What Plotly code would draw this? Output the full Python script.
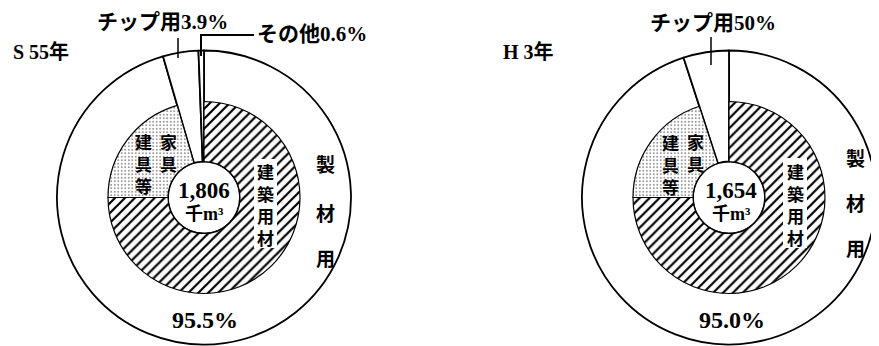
import plotly.graph_objects as go

# ---- data ----
years = ["S 55年", "H 3年"]
totals = ["1,806", "1,654"]
outer_labels = ["製材用", "チップ用", "その他"]
outer_s55 = [95.5, 3.9, 0.6]
outer_h3 = [95.0, 5.0, 0.0]
inner_labels = ["建築用材", "建家具等"]
inner_s55 = [75.0, 20.5]
inner_h3 = [75.0, 20.0]
main_pct_text = ["95.5%", "95.0%"]
chip_text = ["チップ用3.9%", "チップ用50%"]
other_text = ["その他0.6%", None]

W, H = 879, 346
OFF = 8  # page body margin offset
def px(x):
    return (x - OFF) / W
def py(y):
    return 1 - (y - OFF) / H

R_OUT, R_IN, R_HOLE = 147, 96, 36
centers = [(204, 197.5), (729, 197.5)]

FONT = "Liberation Serif, Noto Sans CJK JP"
CJK = "Noto Sans CJK JP"

fig = go.Figure()

for i, (outer, inner) in enumerate([(outer_s55, inner_s55), (outer_h3, inner_h3)]):
    cx, cy = centers[i]
    labs = [l for l, v in zip(outer_labels, outer) if v > 0]
    vals = [v for v in outer if v > 0]
    fig.add_trace(go.Pie(
        labels=labs, values=vals, sort=False, direction="clockwise", rotation=0,
        hole=R_HOLE / R_OUT, textinfo="none", hoverinfo="skip", showlegend=False,
        marker=dict(colors=["white"] * len(vals), line=dict(color="black", width=1.8)),
        domain=dict(x=[px(cx - R_OUT), px(cx + R_OUT)], y=[py(cy + R_OUT), py(cy - R_OUT)]),
    ))
    gap = 100 - sum(inner)
    fig.add_trace(go.Pie(
        labels=inner_labels + ["gap"], values=inner + [gap], sort=False,
        direction="clockwise", rotation=0,
        hole=R_HOLE / R_IN, textinfo="none", hoverinfo="skip", showlegend=False,
        marker=dict(
            colors=["white", "white", "rgba(0,0,0,0)"],
            line=dict(color=["black", "black", "rgba(0,0,0,0)"], width=[1.2, 1.2, 0]),
            pattern=dict(shape=["/", ".", ""], size=[7, 3.5, 6], solidity=[0.32, 0.2, 0.1],
                         fgcolor=["black", "#7a7a7a", "black"], bgcolor="white"),
        ),
        domain=dict(x=[px(cx - R_IN), px(cx + R_IN)], y=[py(cy + R_IN), py(cy - R_IN)]),
    ))

ann = []
def txt(x, y, t, size=19, anchor="center", font=FONT):
    ann.append(dict(x=px(x), y=py(y), xref="paper", yref="paper", text=t, showarrow=False,
                    xanchor=anchor, yanchor="middle",
                    font=dict(family=font, size=size, color="black", weight="bold")))

shapes = []
def line(pts, w=1.5):
    path = "M " + " L ".join(f"{px(x)},{py(y)}" for x, y in pts)
    shapes.append(dict(type="path", path=path, xref="paper", yref="paper",
                       line=dict(color="black", width=w), layer="above"))
def rect(x0, y0, x1, y1):
    shapes.append(dict(type="rect", xref="paper", yref="paper", x0=px(x0), x1=px(x1),
                       y0=py(y1), y1=py(y0), fillcolor="white", line=dict(width=0), layer="above"))

def vert(s):
    return "<br>".join(s)

# Left chart
txt(41, 52, years[0], 20)
txt(162, 22, chip_text[0], 21)
line([(178, 38), (178, 58)])
txt(255, 34, other_text[0], 21, anchor="left")
line([(201, 56), (201, 35), (254, 35)], 2)
for ch, y in zip("製材用", [163, 212, 257]):
    txt(325, y, ch, 19, font=CJK)
rect(254, 159, 277, 248)
txt(265, 204, vert("建築用材"), 17, font=CJK)
txt(143, 163, vert("建具等"), 17, font=CJK)
txt(168, 152, vert("家具"), 17, font=CJK)
txt(204, 190, totals[0], 23)
txt(204, 214, "千m³", 18)
txt(205, 320, main_pct_text[0], 24)

# Right chart
txt(528, 52, years[1], 20)
txt(713, 23, chip_text[1], 21)
line([(711, 37), (711, 65)])
for ch, y in zip("製材用", [157, 202, 247]):
    txt(855, y, ch, 19, font=CJK)
rect(783, 158, 807, 248)
txt(795, 204, vert("建築用材"), 17, font=CJK)
txt(670, 164, vert("建具等"), 17, font=CJK)
txt(695, 153, vert("家具"), 17, font=CJK)
txt(731, 190, totals[1], 23)
txt(731, 214, "千m³", 18)
txt(732, 320, main_pct_text[1], 24)

fig.update_layout(
    width=W, height=H, margin=dict(l=0, r=0, t=0, b=0),
    paper_bgcolor="white", plot_bgcolor="white",
    annotations=ann, shapes=shapes,
)
fig.write_html("out.html")
